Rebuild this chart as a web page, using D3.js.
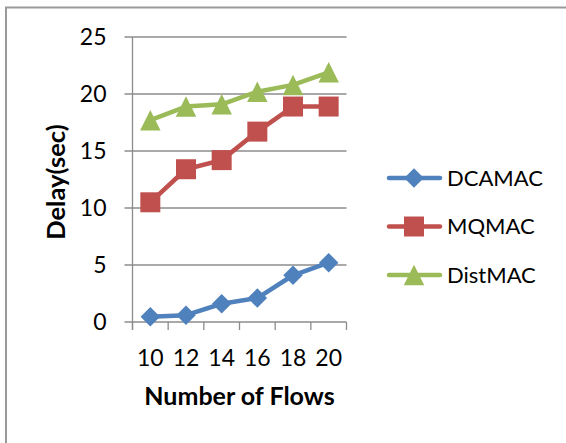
<!DOCTYPE html>
<html>
<head>
<meta charset="utf-8">
<script src="https://cdn.jsdelivr.net/npm/d3@7"></script>
<style>
  html, body { margin: 0; padding: 0; background: #fff; }
  svg { display: block; }
  text { font-family: Lato, "Noto Sans", sans-serif; fill: #000; }
</style>
</head>
<body>
<svg id="chart" width="566" height="443"></svg>
<script>
// Number of flows on the category axis
const flows = ["10", "12", "14", "16", "18", "20"];
// Delay (sec) per protocol
const dcamac = [0.45, 0.6, 1.6, 2.1, 4.1, 5.2];
const mqmac = [10.5, 13.4, 14.2, 16.7, 18.9, 18.9];
const distmac = [17.7, 18.9, 19.1, 20.2, 20.8, 21.9];
const yTicks = [0, 5, 10, 15, 20, 25];

const series = [
  { name: "DCAMAC", values: dcamac, color: "#4F81BD", marker: "diamond" },
  { name: "MQMAC", values: mqmac, color: "#C0504D", marker: "square" },
  { name: "DistMAC", values: distmac, color: "#9BBB59", marker: "triangle" }
];

const svg = d3.select("#chart");

// outer chart frame (right and bottom edges fall outside the canvas)
svg.append("rect")
  .attr("x", 6).attr("y", 7.5)
  .attr("width", 600).attr("height", 500)
  .attr("fill", "none")
  .attr("stroke", "#9a9a9a")
  .attr("stroke-width", 2);

const plot = { left: 132.5, right: 346.5, top: 37, bottom: 322 };

const x = d3.scaleBand().domain(flows).range([plot.left, plot.right]).padding(0);
const y = d3.scaleLinear().domain([0, 25]).range([plot.bottom, plot.top]);

// value axis labels
const yAxis = d3.axisLeft(y).tickValues(yTicks).tickSize(0).tickPadding(26);
const gy = svg.append("g").attr("transform", `translate(${plot.left},0)`).call(yAxis);
gy.select(".domain").remove();
gy.selectAll("text").style("font-size", "23px");

// horizontal gridlines with outward ticks on the left
svg.append("g").selectAll("line").data(yTicks).join("line")
  .attr("x1", plot.left - 8).attr("x2", plot.right)
  .attr("y1", d => y(d)).attr("y2", d => y(d))
  .attr("stroke", "#8c8c8c").attr("stroke-width", 1.3);

// vertical value axis line
svg.append("line")
  .attr("x1", plot.left).attr("x2", plot.left)
  .attr("y1", plot.top).attr("y2", plot.bottom + 8)
  .attr("stroke", "#8c8c8c").attr("stroke-width", 1.3);

// category axis: tick marks between categories
const xAxis = d3.axisBottom(x).tickSize(0).tickPadding(28);
const gx = svg.append("g").attr("transform", `translate(0,${plot.bottom})`).call(xAxis);
gx.select(".domain").remove();
gx.selectAll("text").style("font-size", "23px");
const bounds = flows.map(f => x(f)).concat([plot.right]);
svg.append("g").selectAll("line").data(bounds).join("line")
  .attr("x1", d => d).attr("x2", d => d)
  .attr("y1", plot.bottom).attr("y2", plot.bottom + 8)
  .attr("stroke", "#8c8c8c").attr("stroke-width", 1.3);

// axis titles
svg.append("text")
  .attr("x", 239.5).attr("y", 405)
  .attr("text-anchor", "middle")
  .style("font-size", "25px").style("font-weight", "bold")
  .text("Number of Flows");
svg.append("text")
  .attr("transform", "translate(65,182) rotate(-90)")
  .attr("text-anchor", "middle")
  .style("font-size", "25.5px").style("font-weight", "bold")
  .text("Delay(sec)");

// marker shapes: diamond and triangle as wide as they are tall
const markerType = {
  diamond: { draw(ctx, size) { const r = Math.sqrt(size) / 2;
    ctx.moveTo(0, -r); ctx.lineTo(r, 0); ctx.lineTo(0, r); ctx.lineTo(-r, 0); ctx.closePath(); } },
  square: { draw(ctx, size) { const r = Math.sqrt(size) / 2;
    ctx.rect(-r, -r, 2 * r, 2 * r); } },
  triangle: { draw(ctx, size) { const r = Math.sqrt(size) / 2;
    ctx.moveTo(0, -r); ctx.lineTo(r, r); ctx.lineTo(-r, r); ctx.closePath(); } }
};
const markerSize = { diamond: 19.5 * 19.5, square: 20 * 20, triangle: 20.5 * 20.5 };
const symbolFor = k => d3.symbol().type(markerType[k]).size(markerSize[k])();

const line = d3.line()
  .x((d, i) => x(flows[i]) + x.bandwidth() / 2)
  .y(d => y(d));

series.forEach(s => {
  const g = svg.append("g");
  g.append("path")
    .attr("d", line(s.values))
    .attr("fill", "none")
    .attr("stroke", s.color)
    .attr("stroke-width", 4.5)
    .attr("stroke-linejoin", "round");
  g.selectAll("path.mk").data(s.values).join("path")
    .attr("class", "mk")
    .attr("d", symbolFor(s.marker))
    .attr("transform", (d, i) => `translate(${x(flows[i]) + x.bandwidth() / 2},${y(d)})`)
    .attr("fill", s.color);
});

// legend
const legendY = [178, 226.5, 275];
series.forEach((s, i) => {
  const g = svg.append("g").attr("transform", `translate(0,${legendY[i]})`);
  g.append("line")
    .attr("x1", 389).attr("x2", 440)
    .attr("stroke", s.color).attr("stroke-width", 4.5)
    .attr("stroke-linecap", "round");
  g.append("path")
    .attr("d", symbolFor(s.marker))
    .attr("transform", "translate(414,0)")
    .attr("fill", s.color);
  g.append("text")
    .attr("x", 447).attr("y", 0).attr("dy", "0.35em")
    .style("font-size", "22px")
    .text(s.name);
});
</script>
</body>
</html>
